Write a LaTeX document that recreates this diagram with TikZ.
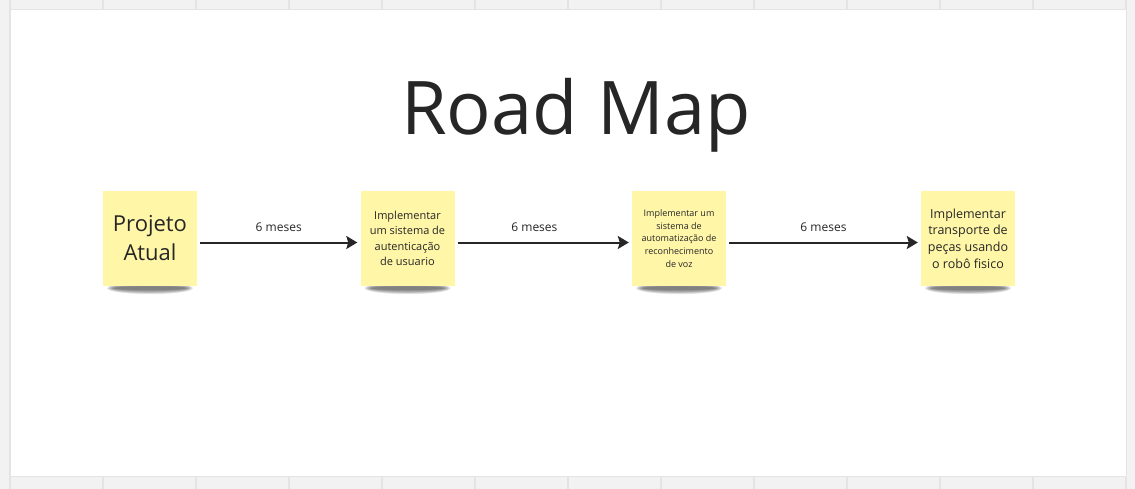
\documentclass[tikz,border=0pt]{standalone}
\usepackage{fontspec}
\setmainfont{Open Sans}
\usetikzlibrary{arrows.meta}
\definecolor{papel}{RGB}{255,246,168}
\definecolor{tinta}{RGB}{38,38,38}
\definecolor{grade}{RGB}{228,228,228}
\definecolor{fundo}{RGB}{242,242,242}
\pgfdeclarelayer{quadro}
\pgfdeclarelayer{sombras}
\pgfsetlayers{quadro,sombras,main}
\tikzset{
  nota/.style={fill=papel, minimum width=94pt, minimum height=94pt, inner sep=1pt, align=center, text=tinta},
  seta/.style={draw=tinta, line width=2pt, -{Stealth[length=11pt,width=13pt,inset=2pt]}, shorten <=3pt, shorten >=3pt},
  rotulo/.style={font=\fontsize{12}{14}\selectfont, text=tinta, yshift=15.5pt}
}

\begin{document}
\begin{tikzpicture}[x=1pt,y=-1pt]
\useasboundingbox (0,0) rectangle (1135,489);
% quadro com a grade
\begin{pgfonlayer}{quadro}
\fill[fundo] (0,0) rectangle (1135,489);
\foreach \g in {10,103,...,1126}
  \draw[grade, line width=1.2pt] (\g,0) -- (\g,489);
\fill[white] (10,10) rectangle (1126,476);
\draw[grade, line width=1pt] (10,10) rectangle (1126,476);
\end{pgfonlayer}

\node[text=tinta, font=\fontsize{74}{88}\selectfont, anchor=base] (titulo) at (576,135) {Road Map};

% notas
\node[nota, font=\fontsize{22}{29}\selectfont] (projeto) at (150,238.5) {Projeto\\Atual};
\node[nota, font=\fontsize{11}{15.3}\selectfont] (autenticacao) at (407.5,238.5) {Implementar\\um sistema de\\autenticação\\de usuario};
\node[nota, font=\fontsize{9}{12.7}\selectfont] (voz) at (679,238.5) {Implementar um\\sistema de\\automatização de\\reconhecimento\\de voz};
\node[nota, font=\fontsize{12.5}{16.6}\selectfont] (robo) at (968,238.5) {Implementar\\transporte de\\peças usando\\o robô fisico};

% sombras
\begin{pgfonlayer}{sombras}
\foreach \n in {projeto,autenticacao,voz,robo}
  \foreach \r in {0,...,6}
    \fill[black, opacity=0.09] ([yshift=-2.5pt]\n.south) ellipse ({43-1.2*\r} and {6-0.7*\r});
\end{pgfonlayer}

% setas
\draw[seta] ([yshift=-4pt]projeto.east) -- ([yshift=-4pt]autenticacao.west) node[rotulo, midway] (m1) {6 meses};
\draw[seta] ([yshift=-4pt]autenticacao.east) -- ([yshift=-4pt]voz.west) node[rotulo, pos=0.45] (m2) {6 meses};
\draw[seta] ([yshift=-4pt]voz.east) -- ([yshift=-4pt]robo.west) node[rotulo, midway] (m3) {6 meses};
\end{tikzpicture}
\end{document}
